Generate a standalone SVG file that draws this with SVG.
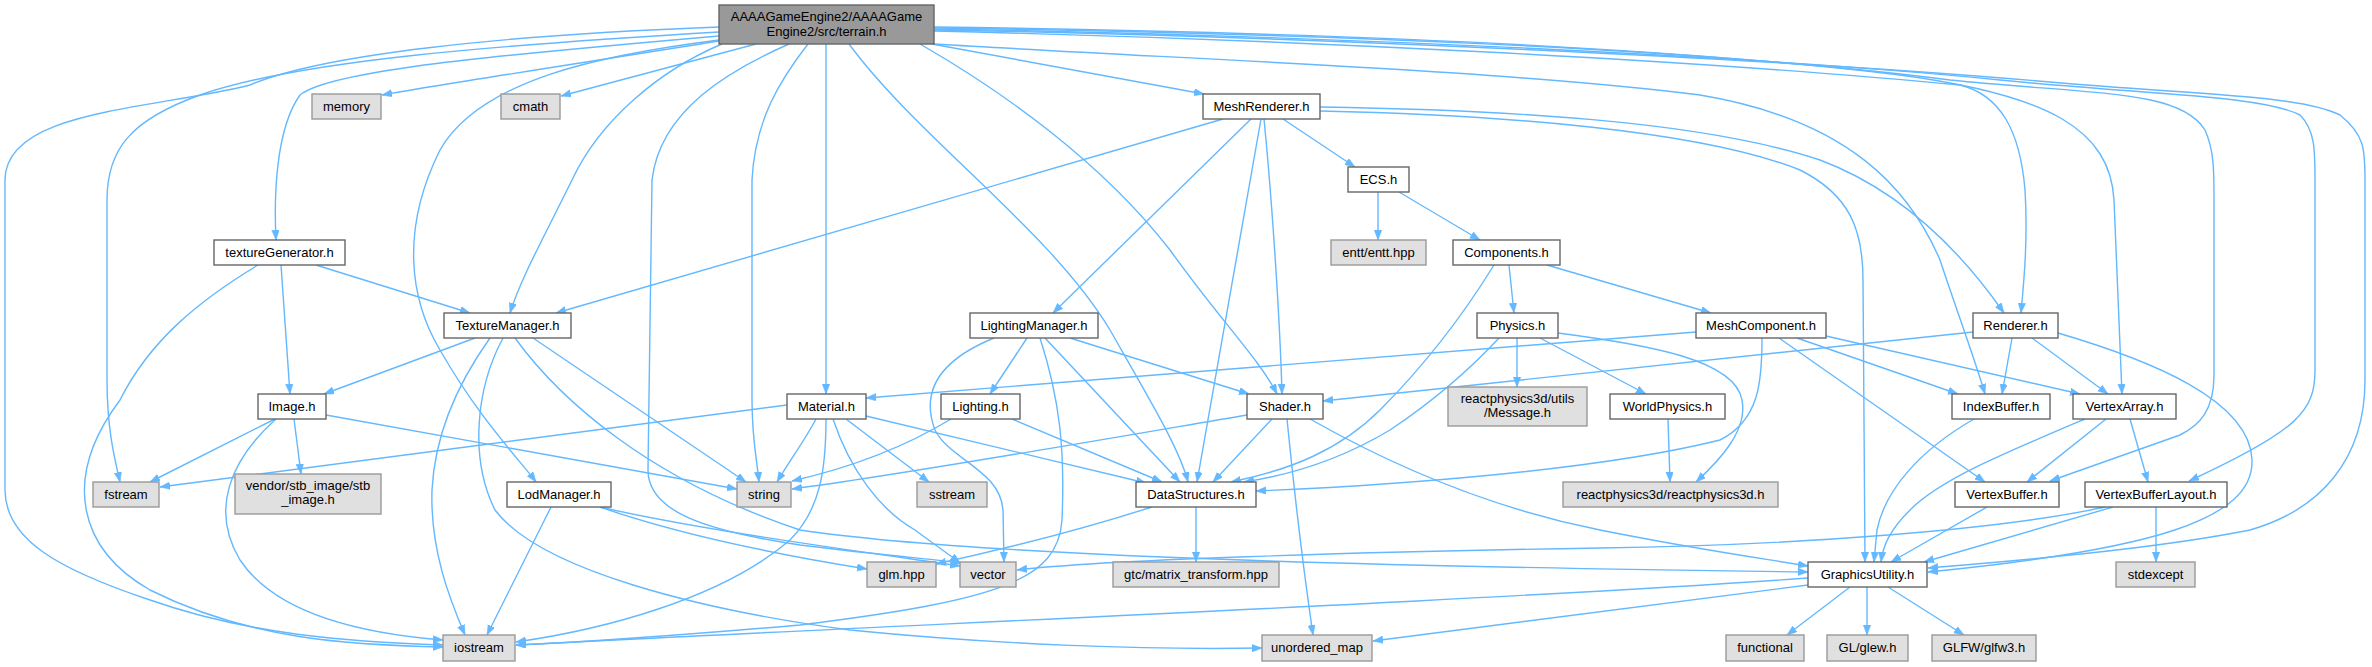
<svg xmlns="http://www.w3.org/2000/svg" width="2372" height="667" viewBox="0 0 2372 667">
<style>
.e{fill:none;stroke:#63b8ff;stroke-width:1.4;marker-end:url(#ah)}
.w{fill:#ffffff;stroke:#666666;stroke-width:1.4}
.g{fill:#e0e0e0;stroke:#999999;stroke-width:1.4}
.r{fill:#999999;stroke:#666666;stroke-width:1.4}
text{font-family:"Liberation Sans",Arial,sans-serif;font-size:13px;fill:#000;text-anchor:middle}
</style>
<defs>
<marker id="ah" markerUnits="userSpaceOnUse" markerWidth="11" markerHeight="8" refX="10" refY="3.75" orient="auto">
<path d="M0,0 L10,3.75 L0,7.5 z" fill="#63b8ff" stroke="#63b8ff" stroke-width="0.5"/>
</marker>
</defs>
<rect width="2372" height="667" fill="#ffffff"/>
<g id="connectors">
<!-- root edges -->
<path class="e" d="M719,41 C600,60 450,83 382,95"/>
<path class="e" d="M756,44 L561,96"/>
<path class="e" d="M719,36 C500,55 330,70 300,95 C275,130 274,200 276,240"/>
<path class="e" d="M722,44 C660,70 600,120 572,180 C545,235 520,280 510,313"/>
<path class="e" d="M719,27 C500,35 320,55 250,85 C150,110 5,110 5,180 L5,490 C5,540 60,570 150,600 C250,635 350,642 443,645"/>
<path class="e" d="M719,32 C500,45 300,60 200,95 C130,120 107,150 107,200 L107,380 C107,430 115,460 120,482"/>
<path class="e" d="M719,40 C600,55 480,80 440,150 C400,230 410,300 440,350 C480,420 520,460 536,482"/>
<path class="e" d="M789,44 C730,70 660,110 652,180 L648,470 C648,510 700,530 800,545 C880,555 940,560 962,563"/>
<path class="e" d="M808,44 C780,80 755,120 752,180 L752,400 C752,440 757,460 759,482"/>
<path class="e" d="M826,44 L826,394"/>
<path class="e" d="M849,44 C920,140 1050,230 1110,330 C1150,400 1180,450 1188,482"/>
<path class="e" d="M920,44 C1000,90 1100,160 1170,250 C1220,320 1260,360 1277,394"/>
<path class="e" d="M932,44 L1204,94"/>
<path class="e" d="M934,44 C1200,60 1500,70 1700,95 C1850,120 1910,190 1940,260 C1960,320 1975,360 1985,394"/>
<path class="e" d="M934,31 C1300,40 1700,60 1960,85 C2000,95 2020,130 2025,190 C2028,240 2024,280 2021,313"/>
<path class="e" d="M934,27 C1300,32 1650,45 1900,75 C2050,95 2110,130 2114,200 L2122,394"/>
<path class="e" d="M934,28 C1300,33 1700,48 1950,80 C2100,95 2180,90 2205,130 C2214,150 2214,170 2214,200 L2214,375 C2214,410 2200,425 2180,435 L2050,481"/>
<path class="e" d="M934,29 C1300,35 1750,55 2000,80 C2150,95 2260,95 2300,115 C2315,130 2315,150 2315,180 L2315,370 C2315,410 2300,430 2189,481"/>
<path class="e" d="M934,30 C1300,36 1800,60 2050,82 C2200,95 2300,95 2340,115 C2365,135 2365,150 2365,180 L2365,380 C2365,460 2320,510 2250,530 C2150,550 2000,562 1928,568"/>
<!-- MeshRenderer -->
<path class="e" d="M1223,119 L556,313"/>
<path class="e" d="M1251,119 L1053,313"/>
<path class="e" d="M1261,119 L1197,482"/>
<path class="e" d="M1264,119 C1272,200 1280,320 1282,394"/>
<path class="e" d="M1283,119 L1355,167"/>
<path class="e" d="M1320,107 C1500,110 1700,120 1820,160 C1900,190 1960,250 2004,313"/>
<path class="e" d="M1320,111 C1500,115 1700,130 1800,170 C1850,195 1863,230 1863,280 L1865,562"/>
<!-- ECS -->
<path class="e" d="M1378,192 L1378,240"/>
<path class="e" d="M1399,192 L1480,240"/>
<!-- Components -->
<path class="e" d="M1509,265 L1514,313"/>
<path class="e" d="M1547,265 L1711,313"/>
<path class="e" d="M1494,265 C1460,320 1420,370 1380,410 C1340,450 1290,470 1231,482"/>
<!-- Physics -->
<path class="e" d="M1517,338 L1517,387"/>
<path class="e" d="M1499,338 C1460,380 1420,410 1390,430 C1340,460 1290,475 1244,482"/>
<path class="e" d="M1540,338 L1646,394"/>
<path class="e" d="M1558,333 C1650,345 1735,360 1742,400 C1748,430 1720,460 1696,482"/>
<!-- WorldPhysics -->
<path class="e" d="M1668,419 L1670,482"/>
<!-- MeshComponent -->
<path class="e" d="M1696,332 L866,398"/>
<path class="e" d="M1762,338 C1762,380 1760,420 1720,440 C1600,470 1400,485 1256,491"/>
<path class="e" d="M1797,338 L1958,394"/>
<path class="e" d="M1826,336 L2080,394"/>
<path class="e" d="M1779,338 L1985,482"/>
<!-- Renderer -->
<path class="e" d="M1973,332 L1323,401"/>
<path class="e" d="M2012,338 L2002,394"/>
<path class="e" d="M2032,338 L2108,394"/>
<path class="e" d="M2058,333 C2150,360 2250,400 2252,460 C2254,520 2150,550 1928,572"/>
<!-- IndexBuffer, VertexArray, VertexBuffer, VBLayout -->
<path class="e" d="M1974,419 C1920,450 1885,490 1877,530 L1874,562"/>
<path class="e" d="M2106,419 L2027,482"/>
<path class="e" d="M2130,419 L2148,482"/>
<path class="e" d="M2085,419 C2000,455 1940,480 1910,510 C1890,530 1883,545 1881,562"/>
<path class="e" d="M1987,507 L1891,562"/>
<path class="e" d="M2113,507 L1924,562"/>
<path class="e" d="M2156,507 L2156,562"/>
<path class="e" d="M2105,507 C2000,530 1800,545 1600,548 C1350,552 1100,560 1017,570"/>
<!-- GraphicsUtility -->
<path class="e" d="M1850,587 L1787,635"/>
<path class="e" d="M1867,587 L1867,635"/>
<path class="e" d="M1888,587 L1964,635"/>
<path class="e" d="M1808,578 C1500,600 900,625 516,645"/>
<path class="e" d="M1808,585 L1373,641"/>
<!-- Shader -->
<path class="e" d="M1247,415 C1100,440 900,475 792,489"/>
<path class="e" d="M1272,419 L1213,482"/>
<path class="e" d="M1287,419 C1295,500 1305,580 1313,635"/>
<path class="e" d="M1310,419 C1400,470 1500,510 1600,530 C1700,550 1760,558 1808,566"/>
<!-- Lighting -->
<path class="e" d="M1012,419 L1162,482"/>
<path class="e" d="M951,419 C900,450 840,470 792,481"/>
<!-- LightingManager -->
<path class="e" d="M1027,338 L990,394"/>
<path class="e" d="M1070,338 L1249,394"/>
<path class="e" d="M1045,338 L1180,482"/>
<path class="e" d="M994,338 C940,360 920,390 935,430 C950,460 1000,470 1003,510 L1004,562"/>
<path class="e" d="M1040,338 C1060,400 1065,450 1062,520 C1058,580 1000,600 800,625 C650,638 560,643 516,645"/>
<!-- Material -->
<path class="e" d="M866,416 L1146,483"/>
<path class="e" d="M846,419 L929,482"/>
<path class="e" d="M833,419 C850,470 880,510 915,530 C935,545 950,555 960,563"/>
<path class="e" d="M816,419 C805,440 790,460 777,482"/>
<path class="e" d="M826,419 C826,470 820,510 790,540 C720,600 600,630 516,642"/>
<path class="e" d="M787,405 L160,487"/>
<!-- Image -->
<path class="e" d="M275,419 L150,482"/>
<path class="e" d="M294,419 L301,474"/>
<path class="e" d="M276,419 C230,460 210,510 240,560 C280,620 380,635 443,640"/>
<path class="e" d="M326,415 L737,489"/>
<!-- textureGenerator -->
<path class="e" d="M316,265 L470,313"/>
<path class="e" d="M281,265 L290,394"/>
<path class="e" d="M258,265 C200,300 150,340 120,400 C60,480 80,550 150,590 C250,640 350,645 443,647"/>
<!-- TextureManager -->
<path class="e" d="M475,338 L324,394"/>
<path class="e" d="M490,338 C460,380 435,430 432,490 C430,550 450,600 465,635"/>
<path class="e" d="M503,338 C475,390 470,460 495,510 C540,570 700,610 850,630 C1000,645 1150,650 1262,648"/>
<path class="e" d="M515,338 C560,400 650,480 800,530 C1000,560 1500,568 1808,572"/>
<path class="e" d="M533,338 L746,482"/>
<!-- LodManager -->
<path class="e" d="M551,507 L487,635"/>
<path class="e" d="M600,507 C680,535 780,555 867,569"/>
<path class="e" d="M600,507 C700,530 850,550 960,566"/>
<!-- DataStructures -->
<path class="e" d="M1196,507 L1196,562"/>
<path class="e" d="M1152,507 C1080,530 1000,550 936,564"/>
</g>
<g id="n_root"><rect class="r" x="719" y="5" width="215" height="39"/><text x="826.5" y="20.5">AAAAGameEngine2/AAAAGame</text><text x="826.5" y="35.5">Engine2/src/terrain.h</text></g>
<g id="n_memory"><rect class="g" x="312" y="94" width="69" height="25"/><text x="346.5" y="111">memory</text></g>
<g id="n_cmath"><rect class="g" x="501" y="94" width="59" height="25"/><text x="530.5" y="111">cmath</text></g>
<g id="n_meshrenderer"><rect class="w" x="1203" y="94" width="117" height="25"/><text x="1261.5" y="111">MeshRenderer.h</text></g>
<g id="n_ecs"><rect class="w" x="1348" y="167" width="61" height="25"/><text x="1378.5" y="184">ECS.h</text></g>
<g id="n_texturegenerator"><rect class="w" x="214" y="240" width="131" height="25"/><text x="279.5" y="257">textureGenerator.h</text></g>
<g id="n_entt"><rect class="g" x="1331" y="240" width="95" height="25"/><text x="1378.5" y="257">entt/entt.hpp</text></g>
<g id="n_components"><rect class="w" x="1453" y="240" width="107" height="25"/><text x="1506.5" y="257">Components.h</text></g>
<g id="n_texturemanager"><rect class="w" x="444" y="313" width="127" height="25"/><text x="507.5" y="330">TextureManager.h</text></g>
<g id="n_lightingmanager"><rect class="w" x="970" y="313" width="128" height="25"/><text x="1034" y="330">LightingManager.h</text></g>
<g id="n_physics"><rect class="w" x="1477" y="313" width="81" height="25"/><text x="1517.5" y="330">Physics.h</text></g>
<g id="n_meshcomponent"><rect class="w" x="1696" y="313" width="130" height="25"/><text x="1761" y="330">MeshComponent.h</text></g>
<g id="n_renderer"><rect class="w" x="1973" y="313" width="85" height="25"/><text x="2015.5" y="330">Renderer.h</text></g>
<g id="n_image"><rect class="w" x="258" y="394" width="68" height="25"/><text x="292" y="411">Image.h</text></g>
<g id="n_material"><rect class="w" x="787" y="394" width="79" height="25"/><text x="826.5" y="411">Material.h</text></g>
<g id="n_lighting"><rect class="w" x="941" y="394" width="79" height="25"/><text x="980.5" y="411">Lighting.h</text></g>
<g id="n_shader"><rect class="w" x="1247" y="394" width="76" height="25"/><text x="1285" y="411">Shader.h</text></g>
<g id="n_message"><rect class="g" x="1448" y="387" width="139" height="39"/><text x="1517.5" y="403">reactphysics3d/utils</text><text x="1517.5" y="417">/Message.h</text></g>
<g id="n_worldphysics"><rect class="w" x="1610" y="394" width="115" height="25"/><text x="1667.5" y="411">WorldPhysics.h</text></g>
<g id="n_indexbuffer"><rect class="w" x="1952" y="394" width="98" height="25"/><text x="2001" y="411">IndexBuffer.h</text></g>
<g id="n_vertexarray"><rect class="w" x="2073" y="394" width="103" height="25"/><text x="2124.5" y="411">VertexArray.h</text></g>
<g id="n_fstream"><rect class="g" x="93" y="482" width="66" height="25"/><text x="126" y="499">fstream</text></g>
<g id="n_stb"><rect class="g" x="235" y="474" width="146" height="40"/><text x="308" y="490">vendor/stb_image/stb</text><text x="308" y="504">_image.h</text></g>
<g id="n_lodmanager"><rect class="w" x="507" y="482" width="104" height="25"/><text x="559" y="499">LodManager.h</text></g>
<g id="n_string"><rect class="g" x="737" y="482" width="54" height="25"/><text x="764" y="499">string</text></g>
<g id="n_sstream"><rect class="g" x="917" y="482" width="70" height="25"/><text x="952" y="499">sstream</text></g>
<g id="n_datastructures"><rect class="w" x="1136" y="482" width="120" height="25"/><text x="1196" y="499">DataStructures.h</text></g>
<g id="n_rp3d"><rect class="g" x="1563" y="482" width="215" height="25"/><text x="1670.5" y="499">reactphysics3d/reactphysics3d.h</text></g>
<g id="n_vertexbuffer"><rect class="w" x="1955" y="482" width="104" height="25"/><text x="2007" y="499">VertexBuffer.h</text></g>
<g id="n_vertexbufferlayout"><rect class="w" x="2085" y="482" width="142" height="25"/><text x="2156" y="499">VertexBufferLayout.h</text></g>
<g id="n_glm"><rect class="g" x="867" y="562" width="69" height="25"/><text x="901.5" y="579">glm.hpp</text></g>
<g id="n_vector"><rect class="g" x="960" y="562" width="56" height="25"/><text x="988" y="579">vector</text></g>
<g id="n_gtc"><rect class="g" x="1113" y="562" width="166" height="25"/><text x="1196" y="579">gtc/matrix_transform.hpp</text></g>
<g id="n_graphicsutility"><rect class="w" x="1808" y="562" width="119" height="25"/><text x="1867.5" y="579">GraphicsUtility.h</text></g>
<g id="n_stdexcept"><rect class="g" x="2116" y="562" width="79" height="25"/><text x="2155.5" y="579">stdexcept</text></g>
<g id="n_iostream"><rect class="g" x="443" y="635" width="72" height="26"/><text x="479" y="652">iostream</text></g>
<g id="n_unordered_map"><rect class="g" x="1262" y="635" width="110" height="26"/><text x="1317" y="652">unordered_map</text></g>
<g id="n_functional"><rect class="g" x="1726" y="635" width="78" height="26"/><text x="1765" y="652">functional</text></g>
<g id="n_glew"><rect class="g" x="1827" y="635" width="81" height="26"/><text x="1867.5" y="652">GL/glew.h</text></g>
<g id="n_glfw"><rect class="g" x="1932" y="635" width="104" height="26"/><text x="1984" y="652">GLFW/glfw3.h</text></g>
</svg>
